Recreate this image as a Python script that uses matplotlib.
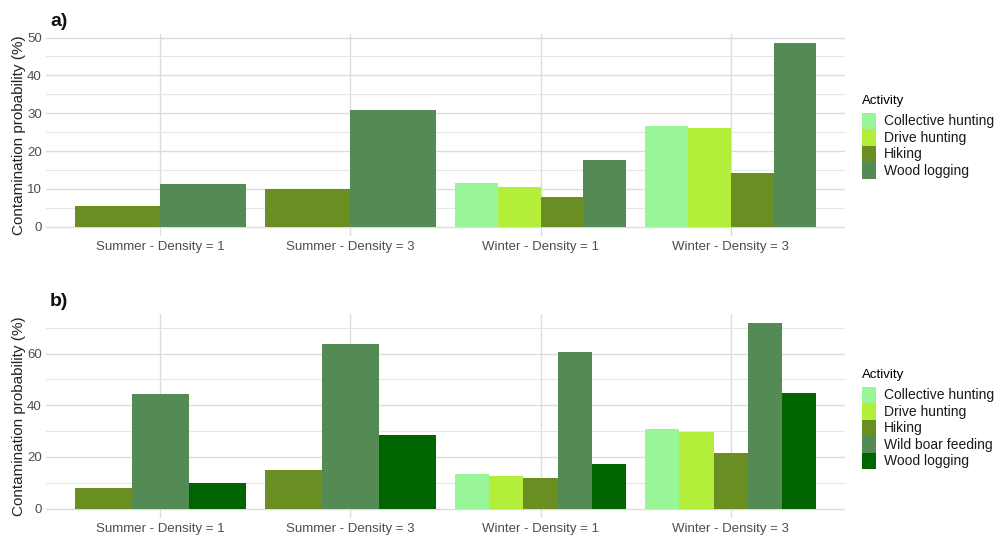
import numpy as np
import matplotlib
matplotlib.use("Agg")
import matplotlib.pyplot as plt
from matplotlib.patches import Patch

plt.rcParams['font.family'] = ['Liberation Sans', 'DejaVu Sans']

categories = ["Summer - Density = 1", "Summer - Density = 3",
              "Winter - Density = 1", "Winter - Density = 3"]

# Panel a)
acts_a = ["Collective hunting", "Drive hunting", "Hiking", "Wood logging"]
vals_a = {
    "Collective hunting": [np.nan, np.nan, 11.7, 26.6],
    "Drive hunting":      [np.nan, np.nan, 10.5, 26.2],
    "Hiking":             [5.4, 10.0, 7.9, 14.3],
    "Wood logging":       [11.2, 30.9, 17.6, 48.5],
}
cols_a = ["#98F598", "#B3EE3A", "#6B8E23", "#548B54"]

# Panel b)
acts_b = ["Collective hunting", "Drive hunting", "Hiking", "Wild boar feeding", "Wood logging"]
vals_b = {
    "Collective hunting": [np.nan, np.nan, 13.5, 30.9],
    "Drive hunting":      [np.nan, np.nan, 12.8, 29.8],
    "Hiking":             [7.9, 15.0, 11.7, 21.5],
    "Wild boar feeding":  [44.2, 63.6, 60.6, 71.7],
    "Wood logging":       [9.9, 28.6, 17.3, 44.9],
}
cols_b = ["#98F598", "#B3EE3A", "#6B8E23", "#548B54", "#006400"]

W, H = 997, 535
fig = plt.figure(figsize=(W / 100, H / 100), dpi=100)


def panel(rect, acts, vals, cols, major, minor, ymax_data, tag, leg_xy):
    ax = fig.add_axes(rect)
    n_cat = len(categories)
    for ci in range(n_cat):
        present = [a for a in acts if not np.isnan(vals[a][ci])]
        w = 0.9 / len(present)
        for k, a in enumerate(present):
            x = ci - 0.45 + w * (k + 0.5)
            ax.bar(x, vals[a][ci], width=w, color=cols[acts.index(a)],
                   edgecolor='none', zorder=3)
    ax.set_xlim(-0.6, n_cat - 1 + 0.6)
    ax.set_ylim(-0.05 * ymax_data, ymax_data * 1.05)
    ax.set_xticks(range(n_cat))
    ax.set_xticklabels(categories)
    ax.set_yticks(major)
    ax.set_yticks(minor, minor=True)
    ax.grid(True, which='major', color='#DCDCDC', linewidth=1.0, zorder=0)
    ax.grid(True, which='minor', axis='y', color='#E6E6E6', linewidth=0.8, zorder=0)
    for s in ax.spines.values():
        s.set_visible(False)
    ax.tick_params(axis='both', which='both', length=0, labelsize=9.5,
                   labelcolor='#4D4D4D', pad=3)
    ax.tick_params(axis='x', pad=3.5)
    ax.set_ylabel("Contamination probability (%)", fontsize=11, color='#222222', labelpad=1)
    ax.text(0.005, 1.02, tag, transform=ax.transAxes, fontsize=14, fontweight='bold',
            ha='left', va='bottom', color='#111111')
    handles = [Patch(facecolor=c, edgecolor='none') for c in cols]
    leg = ax.legend(handles, acts, title="Activity", loc='upper left',
                    bbox_to_anchor=(leg_xy[0] / W, 1 - leg_xy[1] / H),
                    bbox_transform=fig.transFigure, frameon=False, fontsize=10,
                    title_fontsize=9.5, handlelength=1.0, handleheight=1.45,
                    handletextpad=0.55, labelspacing=0.0, borderaxespad=0,
                    borderpad=0)
    for t in leg.get_texts():
        t.set_color('#1A1A1A')
    leg._legend_box.align = "left"
    leg._legend_box.sep = 4
    return ax


def fr(x0, y0, x1, y1):
    return [x0 / W, 1 - y1 / H, (x1 - x0) / W, (y1 - y0) / H]


panel(fr(46, 34, 845, 236), acts_a, vals_a, cols_a,
      [0, 10, 20, 30, 40, 50], [5, 15, 25, 35, 45], 48.5, "a)", (862, 95))
panel(fr(46, 314, 845, 518), acts_b, vals_b, cols_b,
      [0, 20, 40, 60], [10, 30, 50, 70], 71.7, "b)", (862, 369))

fig.savefig("out.png", dpi=100, facecolor='white')
